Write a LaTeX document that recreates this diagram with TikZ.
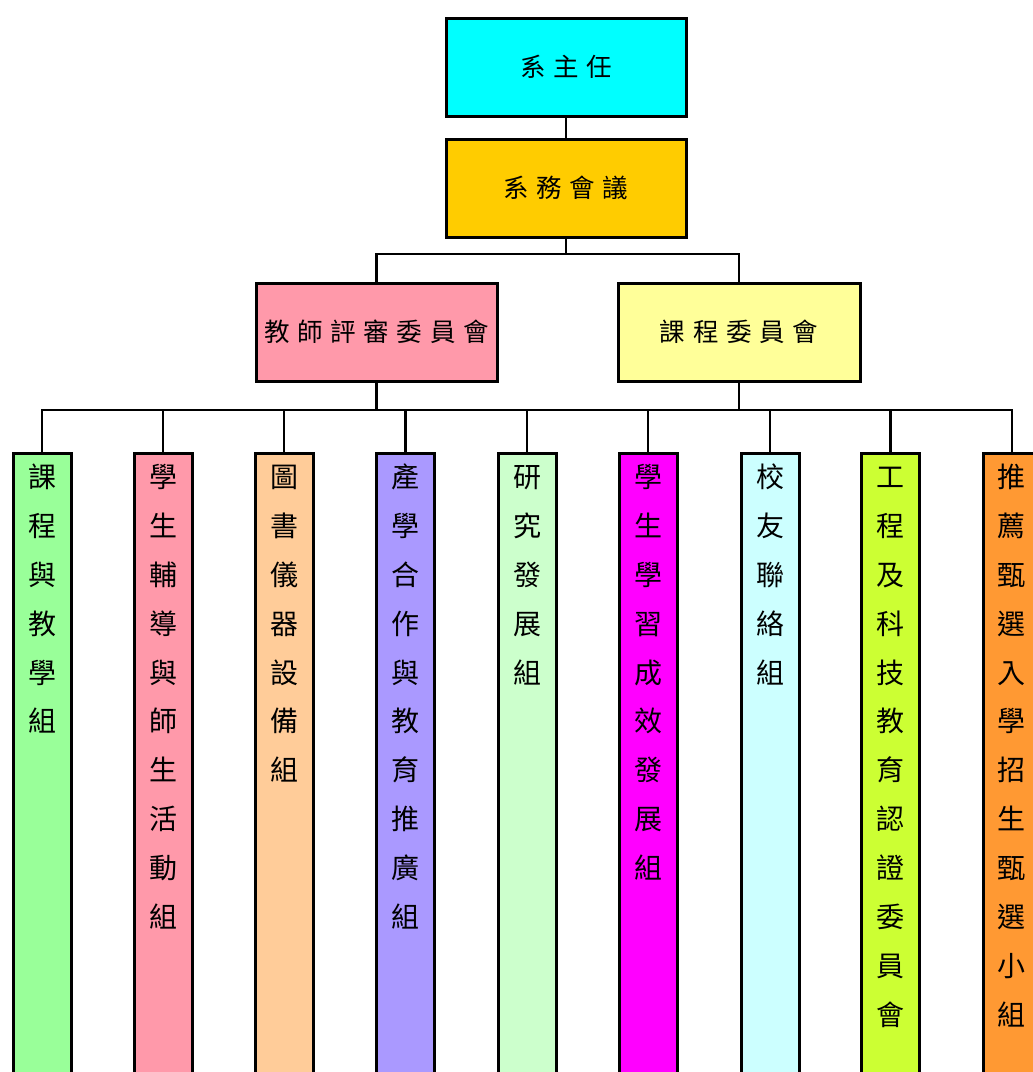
\documentclass[tikz,border=0pt]{standalone}
\usepackage{fontspec}
\newfontfamily\colCJK{Noto Sans CJK TC}
\newfontfamily\wideCJK[LetterSpace=30]{Noto Sans CJK TC}

\definecolor{headcyan}{HTML}{00FFFF}
\definecolor{meetgold}{HTML}{FFCC00}
\definecolor{rosepink}{HTML}{FF99AA}
\definecolor{paleyellow}{HTML}{FFFF99}
\definecolor{mintgreen}{HTML}{99FF99}
\definecolor{peach}{HTML}{FFCC99}
\definecolor{lavender}{HTML}{AA99FF}
\definecolor{palegreen}{HTML}{CCFFCC}
\definecolor{magentabox}{HTML}{FF00FF}
\definecolor{palecyan}{HTML}{CCFFFF}
\definecolor{limebox}{HTML}{CCFF33}
\definecolor{orangebox}{HTML}{FF9933}

\begin{document}
\begin{tikzpicture}[x=1pt,y=-1pt,
  hbox/.style={draw=black,line width=3pt,minimum width=240pt,minimum height=98pt,
    inner sep=0pt,font=\wideCJK\fontsize{25.5}{25.5}\selectfont},
  colbox/.style={draw=black,line width=3pt,minimum width=58pt,minimum height=700pt,
    anchor=north,inner sep=0pt},
  vlab/.style={anchor=north,inner sep=0pt,align=center,
    font=\colCJK\fontsize{28}{48.9}\selectfont},
  link/.style={draw=black,line width=2.7pt}]
\useasboundingbox (0,0) rectangle (1033,1072);
\clip (0,0) rectangle (1033,1072);

% upper levels
\node[hbox,fill=headcyan]   (A) at (566,67)   {系主任};
\node[hbox,fill=meetgold]   (B) at (566,188)  {系務會議};
\node[hbox,fill=rosepink,minimum width=241pt]   (C) at (376.5,332) {教師評審委員會};
\node[hbox,fill=paleyellow,minimum width=242pt] (D) at (739,332)   {課程委員會};

% bus heights
\coordinate (ubus) at (0,254);
\coordinate (lbus) at (0,410);

% columns of working groups
\node[colbox,fill=mintgreen]  (c1) at (42,452)    {};
\node[colbox,fill=rosepink]   (c2) at (163,452)   {};
\node[colbox,fill=peach]      (c3) at (284,452)   {};
\node[colbox,fill=lavender]   (c4) at (405.5,452) {};
\node[colbox,fill=palegreen]  (c5) at (527,452)   {};
\node[colbox,fill=magentabox] (c6) at (648,452)   {};
\node[colbox,fill=palecyan]   (c7) at (770,452)   {};
\node[colbox,fill=limebox]    (c8) at (890.5,452) {};
\node[colbox,fill=orangebox]  (c9) at (1012,452)  {};

% vertical labels
\node[vlab] (t1) at (42,453)    {\strut 課\\程\\與\\教\\學\\組};
\node[vlab] (t2) at (163,453)   {\strut 學\\生\\輔\\導\\與\\師\\生\\活\\動\\組};
\node[vlab] (t3) at (284,453)   {\strut 圖\\書\\儀\\器\\設\\備\\組};
\node[vlab] (t4) at (405.5,453) {\strut 產\\學\\合\\作\\與\\教\\育\\推\\廣\\組};
\node[vlab] (t5) at (527,453)   {\strut 研\\究\\發\\展\\組};
\node[vlab] (t6) at (648,453)   {\strut 學\\生\\學\\習\\成\\效\\發\\展\\組};
\node[vlab] (t7) at (770,453)   {\strut 校\\友\\聯\\絡\\組};
\node[vlab] (t8) at (890.5,453) {\strut 工\\程\\及\\科\\技\\教\\育\\認\\證\\委\\員\\會};
\node[vlab] (t9) at (1011,453)  {\strut 推\\薦\\甄\\選\\入\\學\\招\\生\\甄\\選\\小\\組};

% connectors
\draw[link] (A.south) -- (B.north);
\draw[link] (B.south) -- (B.south |- ubus);
\draw[link] (C.north) |- (B.south |- ubus) -| (D.north);
\draw[link] (C.south) -- (C.south |- lbus);
\draw[link] (D.south) -- (D.south |- lbus);
\draw[link] (c1.north) |- (c9.north |- lbus) -- (c9.north);
\foreach \k in {2,...,8}
  \draw[link] (c\k.north) -- (c\k.north |- lbus);
\end{tikzpicture}
\end{document}
